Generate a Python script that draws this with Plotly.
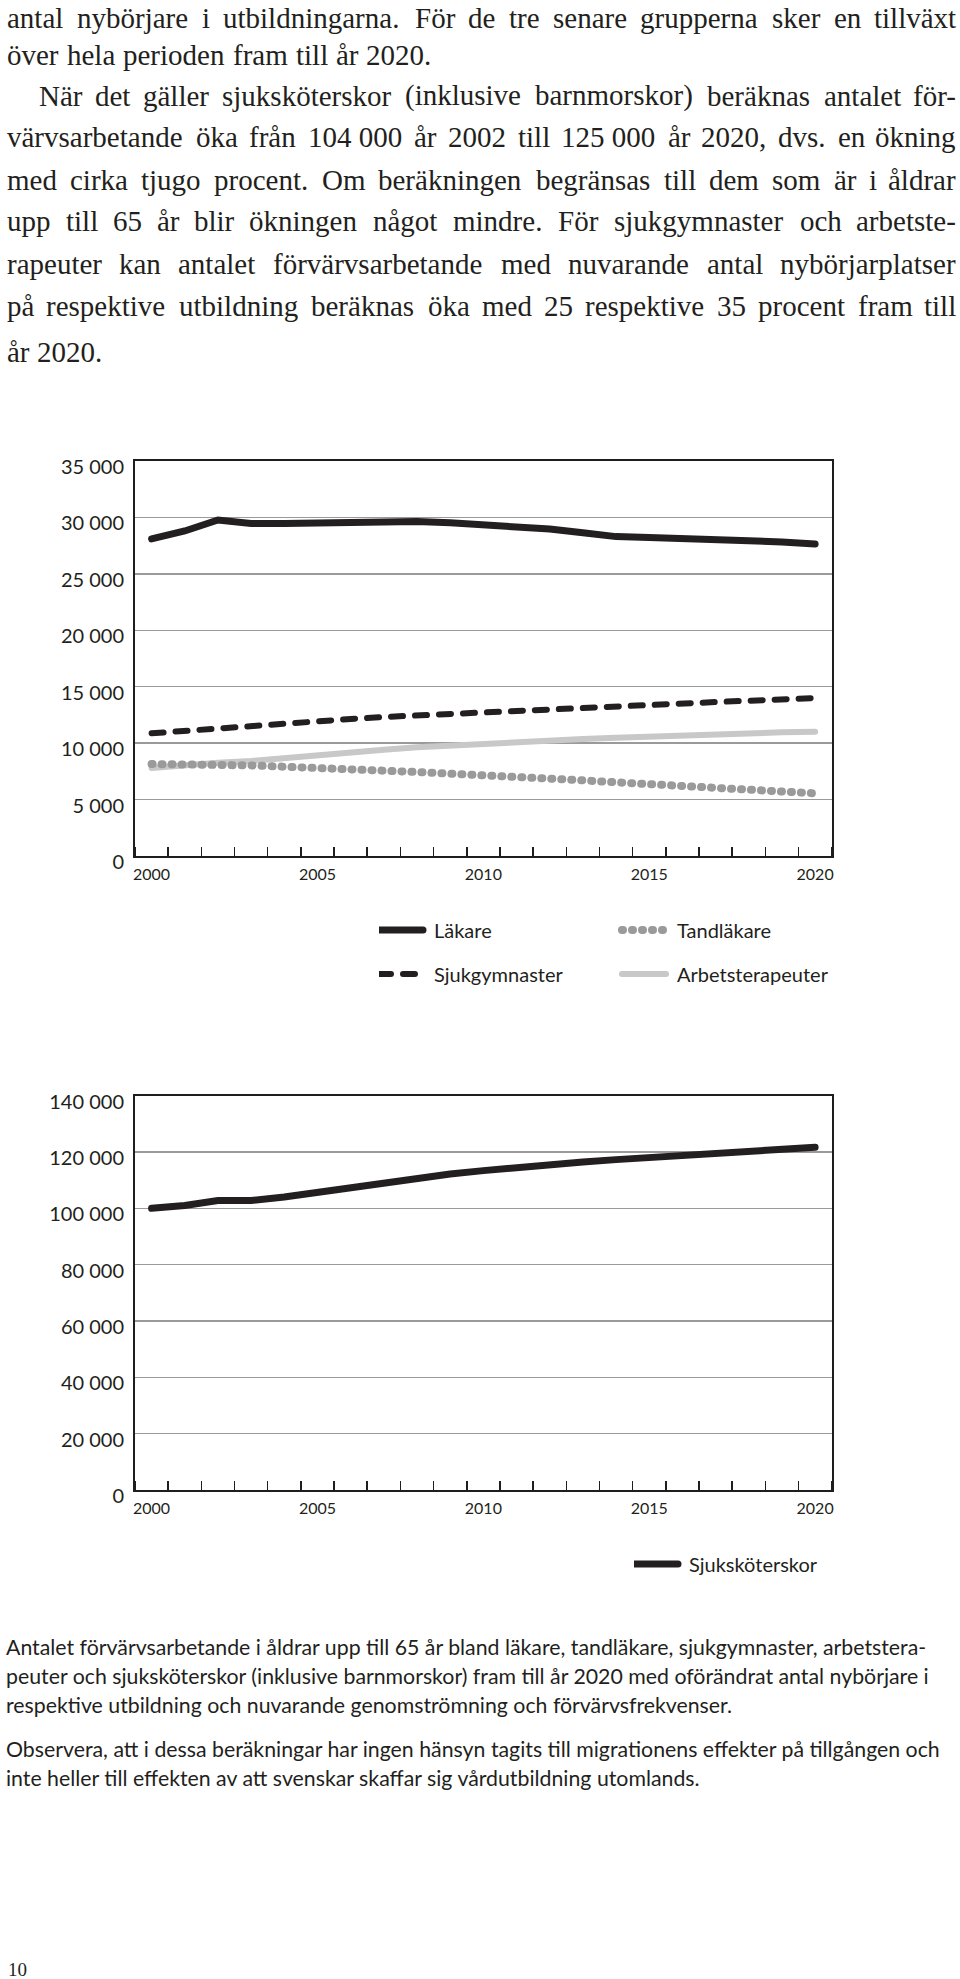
import plotly.graph_objects as go

# ---------------- data ----------------
years = [2000, 2001, 2002, 2003, 2004, 2005, 2006, 2007, 2008, 2009, 2010,
         2011, 2012, 2013, 2014, 2015, 2016, 2017, 2018, 2019, 2020]
lakare = [28100, 28800, 29770, 29470, 29470, 29500, 29560, 29650, 29650, 29530, 29390,
          29200, 28970, 28650, 28300, 28230, 28170, 28090, 27940, 27820, 27640]
tandlakare = [8150, 8150, 8120, 8030, 7910, 7830, 7680, 7560, 7440, 7290, 7180,
              7030, 6850, 6700, 6530, 6380, 6230, 6080, 5910, 5760, 5550]
sjukgymnaster = [10870, 11100, 11310, 11460, 11670, 11900, 12140, 12320, 12460, 12640, 12790,
                 12900, 13020, 13140, 13260, 13380, 13530, 13640, 13760, 13880, 14000]
arbetsterapeuter = [7800, 8060, 8270, 8420, 8700, 8980, 9200, 9420, 9630, 9800, 9950,
                    10130, 10250, 10370, 10480, 10600, 10690, 10780, 10870, 10960, 11020]
sjukskoterskor = [100000, 101000, 102800, 102800, 104000, 105700, 107500, 109300, 110800, 112200, 113400,
                  114600, 115500, 116500, 117300, 118100, 118900, 119600, 120300, 121000, 121700]

x_tickvals = [2000, 2005, 2010, 2015, 2020]
x_ticktext = ["2000", "2005", "2010", "2015", "2020"]
y1_tickvals = [0, 5000, 10000, 15000, 20000, 25000, 30000, 35000]
y1_ticktext = ["0", "5 000", "10 000", "15 000", "20 000", "25 000", "30 000", "35 000"]
y2_tickvals = [0, 20000, 40000, 60000, 80000, 100000, 120000, 140000]
y2_ticktext = ["0", "20 000", "40 000", "60 000", "80 000", "100 000", "120 000", "140 000"]

body_lines = [
    ("antal nybörjare i utbildningarna. För de tre senare grupperna sker en tillväxt", True, 6, 27.5),
    ("över hela perioden fram till år 2020.", False, 6, 64.7),
    ("När det gäller sjuksköterskor (inklusive barnmorskor) beräknas antalet för-", True, 38, 105.7),
    ("värvsarbetande öka från 104\u00a0000 år 2002 till 125\u00a0000 år 2020, dvs. en ökning", True, 6, 147),
    ("med cirka tjugo procent. Om beräkningen begränsas till dem som är i åldrar", True, 6, 190),
    ("upp till 65 år blir ökningen något mindre. För sjukgymnaster och arbetste-", True, 6, 231),
    ("rapeuter kan antalet förvärvsarbetande med nuvarande antal nybörjarplatser", True, 6, 273.5),
    ("på respektive utbildning beräknas öka med 25 respektive 35 procent fram till", True, 6, 316),
    ("år 2020.", False, 6, 361.5),
]
caption_lines = [
    ("Antalet förvärvsarbetande i åldrar upp till 65 år bland läkare, tandläkare, sjukgymnaster, arbetstera-", 1655),
    ("peuter och sjuksköterskor (inklusive barnmorskor) fram till år 2020 med oförändrat antal nybörjare i", 1684),
    ("respektive utbildning och nuvarande genomströmning och förvärvsfrekvenser.", 1713),
    ("Observera, att i dessa beräkningar har ingen hänsyn tagits till migrationens effekter på tillgången och", 1757),
    ("inte heller till effekten av att svenskar skaffar sig vårdutbildning utomlands.", 1786),
]
page_number = "10"

# ---------------- geometry helpers ----------------
W, H = 960, 1979


def px(x):
    return x / W


def py(y):
    return 1 - y / H


INK = "#231f20"
SANS = "Lato"
SERIF = "Liberation Serif"

fig = go.Figure()

# chart 1 (draw order: light lines first)
fig.add_trace(go.Scatter(x=years, y=arbetsterapeuter, mode="lines", name="Arbetsterapeuter",
                         line=dict(color="#c8c8c8", width=6), legend="legend2", legendrank=2,
                         xaxis="x", yaxis="y", hoverinfo="skip"))
fig.add_trace(go.Scatter(x=years, y=tandlakare, mode="lines", name="Tandläkare",
                         line=dict(color="#9a9a9a", width=8, dash="1px,9px"), legend="legend", legendrank=2,
                         xaxis="x", yaxis="y", hoverinfo="skip"))
fig.add_trace(go.Scatter(x=years, y=sjukgymnaster, mode="lines", name="Sjukgymnaster",
                         line=dict(color=INK, width=6, dash="12px,12px"), legend="legend2", legendrank=1,
                         xaxis="x", yaxis="y", hoverinfo="skip"))
fig.add_trace(go.Scatter(x=years, y=lakare, mode="lines", name="Läkare",
                         line=dict(color=INK, width=7), legend="legend", legendrank=1,
                         xaxis="x", yaxis="y", hoverinfo="skip"))
# chart 2
fig.add_trace(go.Scatter(x=years, y=sjukskoterskor, mode="lines", name="Sjuksköterskor",
                         line=dict(color=INK, width=7), legend="legend3",
                         xaxis="x2", yaxis="y2", hoverinfo="skip"))

boundaries = [y - 0.5 for y in years] + [years[-1] + 0.5]
xrange_ = [years[0] - 0.5, years[-1] + 0.5]


def xaxis_cfg(anchor):
    return dict(
        domain=[px(135), px(831.7)], range=xrange_, tickmode="array", anchor=anchor,
        tickvals=x_tickvals, ticktext=x_ticktext, ticks="",
        tickfont=dict(family=SANS, size=16, color=INK), ticklabelstandoff=3,
        showline=True, linecolor="#1e1e1e", linewidth=2, mirror=True,
        showgrid=False, zeroline=False, fixedrange=True, automargin=False,
        minor=dict(tickmode="array", tickvals=boundaries, ticks="inside", ticklen=9,
                   tickwidth=1.5, tickcolor="#1e1e1e", showgrid=False),
    )


def yaxis_cfg(dom, rng, tv, tt, anchor):
    return dict(
        domain=dom, range=rng, tickmode="array", tickvals=tv, ticktext=tt, ticks="",
        tickfont=dict(family=SANS, size=20, color=INK), ticklabelstandoff=5, ticklabelshift=6,
        showline=True, linecolor="#1e1e1e", linewidth=2, mirror=True,
        showgrid=True, gridcolor="#9a9a9a", gridwidth=1.5, zeroline=False,
        fixedrange=True, anchor=anchor, automargin=False,
    )


legend_common = dict(orientation="h", font=dict(family=SANS, size=20, color=INK),
                     bgcolor="rgba(0,0,0,0)", xanchor="left", yanchor="middle",
                     itemwidth=45, entrywidth=183, entrywidthmode="pixels",
                     itemclick=False, itemdoubleclick=False)

fig.update_layout(
    width=W, height=H, autosize=False,
    margin=dict(l=0, r=0, t=0, b=0, pad=0, autoexpand=False),
    paper_bgcolor="white", plot_bgcolor="white",
    showlegend=True,
    xaxis=xaxis_cfg("y"),
    yaxis=yaxis_cfg([py(856), py(461)], [0, 35000], y1_tickvals, y1_ticktext, "x"),
    xaxis2=xaxis_cfg("y2"),
    yaxis2=yaxis_cfg([py(1490), py(1095.7)], [0, 140000], y2_tickvals, y2_ticktext, "x2"),
    legend=dict(legend_common, x=px(379), y=py(930)),
    legend2=dict(legend_common, x=px(379), y=py(974)),
    legend3=dict(legend_common, x=px(634), y=py(1564)),
)

# ---------------- body text (justified, per word) ----------------
TIMES = {' ': 250, '\u00a0': 250, 'a': 444, 'b': 500, 'c': 444, 'd': 500, 'e': 444, 'f': 333, 'g': 500,
         'h': 500, 'i': 278, 'j': 278, 'k': 500, 'l': 278, 'm': 778, 'n': 500, 'o': 500, 'p': 500,
         'q': 500, 'r': 333, 's': 389, 't': 278, 'u': 500, 'v': 500, 'w': 722, 'x': 500, 'y': 500,
         'z': 444, 'ä': 444, 'å': 444, 'ö': 500, 'A': 722, 'B': 667, 'C': 667, 'D': 722, 'E': 611,
         'F': 556, 'G': 722, 'H': 722, 'I': 333, 'J': 389, 'K': 722, 'L': 611, 'M': 889, 'N': 722,
         'O': 722, 'P': 556, 'Q': 722, 'R': 667, 'S': 556, 'T': 611, 'U': 722, 'V': 722, 'W': 944,
         'X': 722, 'Y': 722, 'Z': 611, 'Ä': 722, 'Å': 722, 'Ö': 722, '.': 250, ',': 250, '-': 333,
         '(': 333, ')': 333}
for d in "0123456789":
    TIMES[d] = 500

FS = 29
RIGHT = 957
annotations = []
for text, justify, left, base in body_lines:
    words = text.split(" ")
    widths = [sum(TIMES.get(c, 500) for c in w) * FS / 1000 * 1.015 for w in words]
    if justify and len(words) > 1:
        gap = (RIGHT - left - sum(widths)) / (len(words) - 1)
    else:
        gap = 250 * FS / 1000
    xpos = left
    ycen = base - 0.34 * FS
    for i, (w, wd) in enumerate(zip(words, widths)):
        last = justify and i == len(words) - 1
        annotations.append(dict(text=w, x=px(RIGHT if last else xpos), y=py(ycen), xref="paper", yref="paper",
                                xanchor="right" if last else "left", yanchor="middle", showarrow=False,
                                borderpad=0, font=dict(family=SERIF, size=FS, color=INK)))
        xpos += wd + gap

CFS = 21.3
for text, base in caption_lines:
    annotations.append(dict(text=text, x=px(5), y=py(base - 0.39 * CFS), xref="paper", yref="paper",
                            xanchor="left", yanchor="middle", showarrow=False, borderpad=0,
                            font=dict(family=SANS, size=CFS, color=INK)))

annotations.append(dict(text=page_number, x=px(7), y=py(1976 - 0.34 * 19), xref="paper", yref="paper",
                        xanchor="left", yanchor="middle", showarrow=False, borderpad=0,
                        font=dict(family=SERIF, size=19, color=INK)))

fig.update_layout(annotations=annotations)

post = (
    "document.body.style.margin='0';document.body.style.overflow='hidden';"
    "document.documentElement.style.overflow='hidden';"
    "document.querySelectorAll('.scatterlayer path.js-line, .legendlines path')"
    ".forEach(function(p){p.style.strokeLinecap='round';});"
    "document.querySelectorAll('.legendlines path')"
    ".forEach(function(p){p.setAttribute('d','M0,0h44');});"
)

fig.write_html(
    "out.html",
    config={"displayModeBar": False, "staticPlot": True},
    post_script=post,
)
